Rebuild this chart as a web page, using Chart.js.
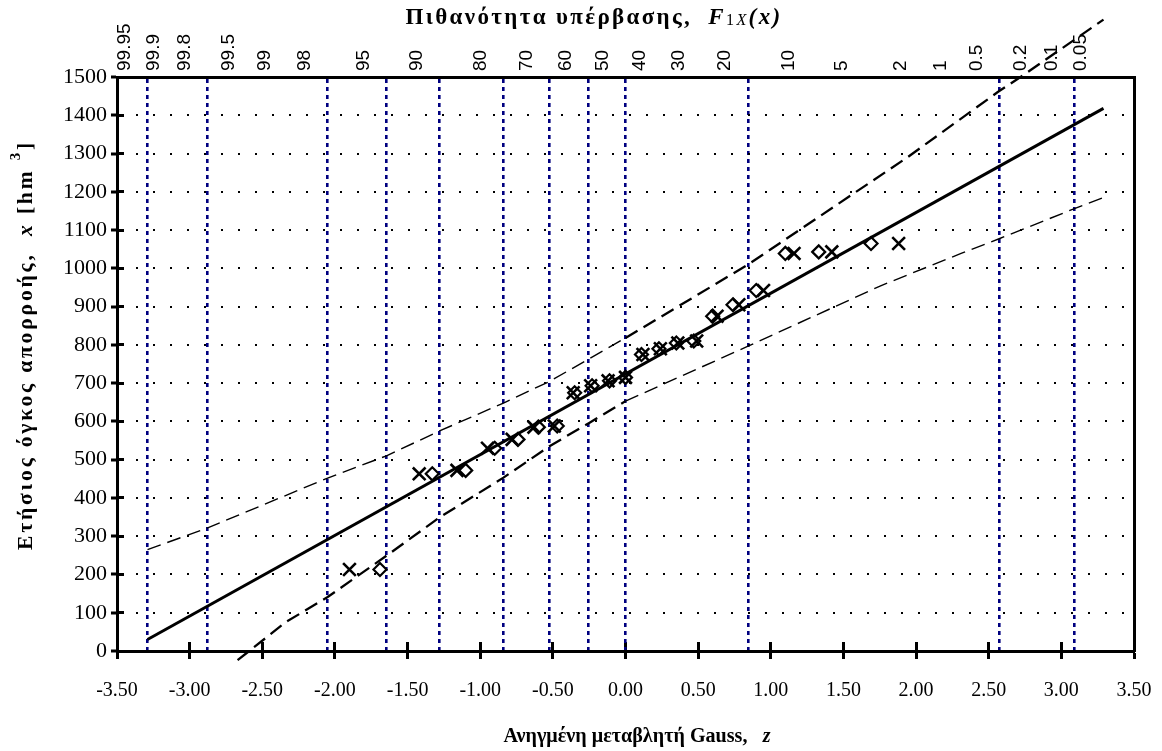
<!DOCTYPE html>
<html lang="el">
<head>
<meta charset="UTF-8">
<title>Πιθανότητα υπέρβασης</title>
<script src="https://cdn.jsdelivr.net/npm/chart.js"></script>
<style>
  html, body { margin: 0; padding: 0; background: #fff; }
  #wrap { width: 1162px; height: 751px; }
</style>
</head>
<body>
<div id="wrap"><canvas id="chart"></canvas></div>
<script>
// annual runoff volumes (descending rank) and their plotting positions
const volumes = [1065, 1043, 1039, 942, 905, 875, 810, 805, 790, 775, 715, 706, 693, 675, 588, 585, 553, 530, 472, 463, 213];
const zCross = [1.88, 1.42, 1.16, 0.95, 0.78, 0.63, 0.49, 0.36, 0.24, 0.12, 0.00, -0.12, -0.24, -0.36, -0.49, -0.63, -0.78, -0.95, -1.16, -1.42, -1.90];
const zDiamond = [1.69, 1.33, 1.10, 0.90, 0.74, 0.60, 0.47, 0.35, 0.23, 0.11, 0.00, -0.11, -0.23, -0.35, -0.47, -0.60, -0.74, -0.90, -1.10, -1.33, -1.69];

// fitted normal line
const fitZ = [-3.29, 3.29];
const fitX = [30, 1418];

// confidence limits
const upperZ = [-3.29, -2.88, -2.05, -1.645, -1.28, -0.84, -0.52, 0, 0.84, 1.94, 2.29, 2.56, 2.75, 3.29];
const upperX = [265, 321, 452, 510, 575, 648, 705, 818, 1009, 1290, 1386, 1460, 1508, 1650];
const lowerZ = [-2.67, -2.34, -2.05, -1.645, -1.28, -0.84, -0.52, -0.25, 0, 0.84, 1.76, 2.31, 2.576, 3.09, 3.29];
const lowerX = [-24, 75, 141, 249, 349, 453, 536, 596, 653, 796, 955, 1039, 1078, 1156, 1185];

// axes
const zTicks = [-3.5, -3, -2.5, -2, -1.5, -1, -0.5, 0, 0.5, 1, 1.5, 2, 2.5, 3, 3.5];
const probLabels = ['99.95', '99.9', '99.8', '99.5', '99', '98', '95', '90', '80', '70', '60', '50', '40', '30', '20', '10', '5', '2', '1', '0.5', '0.2', '0.1', '0.05'];
const probZ = [-3.29, -3.09, -2.88, -2.576, -2.326, -2.054, -1.645, -1.282, -0.842, -0.524, -0.253, 0, 0.253, 0.524, 0.842, 1.282, 1.645, 2.054, 2.326, 2.576, 2.878, 3.09, 3.29];
const probLines = ['99.95', '99.8', '98', '95', '90', '80', '70', '60', '50', '20', '0.5', '0.1'];

const SERIF = "'Liberation Serif', 'Times New Roman', serif";
const SANS = "'Liberation Sans', Arial, sans-serif";

const pts = (xs, ys) => xs.map((x, i) => ({ x: x, y: ys[i] }));
const noPad = s => { s.paddingLeft = 0; s.paddingRight = 0; s.paddingTop = 0; s.paddingBottom = 0; };

// text line made of runs with different fonts; grows the font up to maxK, then spaces letters
function drawRuns(ctx, runs, cx, cy, rot, targetW, maxK) {
    ctx.save();
    ctx.translate(cx, cy);
    if (rot) ctx.rotate(rot);
    ctx.fillStyle = '#000';
    ctx.textBaseline = 'middle';
    ctx.letterSpacing = '0px';
    const font = (r, k) => r.s + ' ' + (r.px * k).toFixed(1) + 'px ' + SERIF;
    let w = 0, n = 0;
    runs.forEach(r => { ctx.font = font(r, 1); w += ctx.measureText(r.t).width; n += r.t.length; });
    const k = Math.min(maxK, targetW / w);
    w = 0;
    runs.forEach(r => { ctx.font = font(r, k); r.w = ctx.measureText(r.t).width; w += r.w; });
    const ls = Math.max(0, (targetW - w) / n);
    let x = -(w + ls * n) / 2;
    runs.forEach(r => {
        ctx.font = font(r, k);
        ctx.letterSpacing = ls.toFixed(2) + 'px';
        ctx.fillText(r.t, x, (r.dy || 0) * k);
        x += r.w + ls * r.t.length;
    });
    ctx.restore();
}

const titles = {
    id: 'titles',
    afterDraw(chart) {
        const ctx = chart.ctx;
        drawRuns(ctx, [
            { t: 'Πιθανότητα υπέρβασης,  ', s: 'bold', px: 20 },
            { t: 'F', s: 'italic bold', px: 20 },
            { t: '1', s: 'normal', px: 14, dy: 2 },
            { t: 'X', s: 'italic', px: 14, dy: 2 },
            { t: '(x)', s: 'italic bold', px: 20 }
        ], 594, 18, 0, 377, 1.15);
        drawRuns(ctx, [
            { t: 'Ετήσιος όγκος απορροής,  ', s: 'bold', px: 20 },
            { t: 'x', s: 'italic bold', px: 20 },
            { t: ' [hm ', s: 'bold', px: 20 },
            { t: '3', s: 'bold', px: 14, dy: -9 },
            { t: ']', s: 'bold', px: 20 }
        ], 26, 345, -Math.PI / 2, 410, 1.08);
        drawRuns(ctx, [
            { t: 'Ανηγμένη μεταβλητή Gauss,   ', s: 'bold', px: 19 },
            { t: 'z', s: 'italic bold', px: 19 }
        ], 637, 737, 0, 267, 1.08);
    }
};

// dashed limits: thin on one half, heavier on the other
const bandWidth = thinLeft => ({
    borderWidth: c => ((c.p0.parsed.x < 0) === thinLeft ? 1.4 : 2.3)
});

new Chart(document.getElementById('chart'), {
    type: 'scatter',
    data: {
        datasets: [
            {
                data: pts(fitZ, fitX), showLine: true, borderColor: '#000', borderWidth: 3,
                pointRadius: 0, xAxisID: 'x', yAxisID: 'y'
            },
            {
                data: pts(upperZ, upperX), showLine: true, borderColor: '#000', borderWidth: 1.8,
                borderDash: [14, 7], pointRadius: 0, clip: false, segment: bandWidth(true),
                xAxisID: 'x', yAxisID: 'y'
            },
            {
                data: pts(lowerZ, lowerX), showLine: true, borderColor: '#000', borderWidth: 1.8,
                borderDash: [14, 7], pointRadius: 0, clip: false, segment: bandWidth(false),
                xAxisID: 'x', yAxisID: 'y'
            },
            {
                data: pts(zCross, volumes), pointStyle: 'crossRot', pointRadius: 9,
                borderColor: '#000', borderWidth: 2.6, xAxisID: 'x', yAxisID: 'y'
            },
            {
                data: pts(zDiamond, volumes), pointStyle: 'rectRot', pointRadius: 6.5,
                backgroundColor: '#fff', borderColor: '#000', borderWidth: 2.2, xAxisID: 'x', yAxisID: 'y'
            }
        ]
    },
    options: {
        responsive: true,
        maintainAspectRatio: false,
        animation: false,
        layout: { padding: 0 },
        plugins: { legend: { display: false }, tooltip: { enabled: false } },
        scales: {
            x: {
                type: 'linear', position: 'bottom', min: -3.5, max: 3.5,
                afterBuildTicks: ax => { ax.ticks = zTicks.map(v => ({ value: v })); },
                ticks: {
                    autoSkip: false, maxRotation: 0, padding: 20, color: '#000',
                    font: { family: SERIF, size: 20 }, callback: v => v.toFixed(2)
                },
                grid: { drawOnChartArea: false, tickLength: 8, tickWidth: 3, tickColor: '#000' },
                border: { color: '#000', width: 3 },
                afterFit: s => { s.height = 100; noPad(s); }
            },
            // inner half of the crossing tick marks on the z axis
            xIn: {
                type: 'linear', position: { y: 0 }, min: -3.5, max: 3.5,
                afterBuildTicks: ax => { ax.ticks = zTicks.map(v => ({ value: v })); },
                ticks: { display: false },
                grid: { drawOnChartArea: false, tickLength: -9, tickWidth: 3, tickColor: '#000' },
                border: { display: false },
                afterFit: s => { s.height = 0; noPad(s); }
            },
            x2: {
                type: 'linear', position: 'top', min: -3.5, max: 3.5,
                afterBuildTicks: ax => { ax.ticks = probZ.map(v => ({ value: v })); },
                ticks: {
                    autoSkip: false, minRotation: 90, maxRotation: 90, padding: 6, color: '#000',
                    font: { family: SANS, size: 19 }, callback: (v, i) => probLabels[i]
                },
                grid: {
                    drawTicks: false, lineWidth: 2.6,
                    color: c => probLines.includes(probLabels[c.index]) ? '#000080' : 'rgba(0,0,0,0)'
                },
                border: { color: '#000', width: 3, dash: [4, 4] },
                afterFit: s => { s.height = 77; noPad(s); }
            },
            y: {
                position: 'left', min: 0, max: 1500,
                ticks: { stepSize: 100, color: '#000', padding: 4, font: { family: SERIF, size: 22 }, callback: v => String(v) },
                grid: { color: '#000', lineWidth: 2, tickLength: 6, tickWidth: 3, tickColor: '#000' },
                border: { color: '#000', width: 3, dash: [2, 15] },
                afterFit: s => { s.width = 117; noPad(s); }
            },
            // inner half of the crossing tick marks on the volume axis
            yIn: {
                position: { x: -3.5 }, min: 0, max: 1500,
                ticks: { display: false, stepSize: 100 },
                grid: { drawOnChartArea: false, tickLength: -7, tickWidth: 3, tickColor: '#000' },
                border: { display: false },
                afterFit: s => { s.width = 0; noPad(s); }
            },
            y2: {
                position: 'right', min: 0, max: 1500,
                ticks: { display: false },
                grid: { drawOnChartArea: false, drawTicks: false },
                border: { color: '#000', width: 3 },
                afterFit: s => { s.width = 28; noPad(s); }
            }
        }
    },
    plugins: [titles]
});
</script>
</body>
</html>
